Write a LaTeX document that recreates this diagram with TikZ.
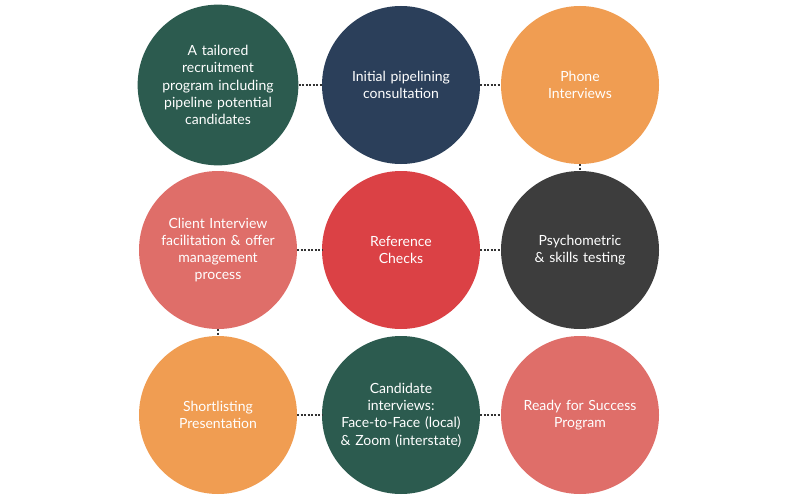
\documentclass[tikz,border=0pt]{standalone}
\usepackage{fontspec}
\setmainfont{Lato}
\definecolor{cgreen}{HTML}{2C5B4F}
\definecolor{cnavy}{HTML}{2B3F5A}
\definecolor{corange}{HTML}{F09D52}
\definecolor{csalmon}{HTML}{DF6E69}
\definecolor{cred}{HTML}{DB4145}
\definecolor{cgray}{HTML}{3D3D3D}
\definecolor{cdot}{HTML}{333333}
\begin{document}
\begin{tikzpicture}[x=1pt,y=-1pt,
  bubble/.style={circle,minimum size=158pt,inner sep=0pt,text=white,align=center,
    font=\fontsize{14}{17.3}\selectfont,text width=140pt},
  link/.style={draw=cdot,line width=2pt,dash pattern=on 2pt off 1.5pt}]
\useasboundingbox (0,0) rectangle (800,500);
\fill[white] (0,0) rectangle (800,500);
\node[bubble,fill=cgreen] (a) at (218,85) {A tailored\\recruitment\\program including\\pipeline potential\\candidates};
\node[bubble,fill=cnavy] (b) at (401,85) {Initial pipelining\\consultation};
\node[bubble,fill=corange] (c) at (580,85) {Phone\\Interviews};
\node[bubble,fill=csalmon] (d) at (218,250) {Client Interview\\facilitation \& offer\\management\\process};
\node[bubble,fill=cred] (e) at (401,250) {Reference\\Checks};
\node[bubble,fill=cgray] (f) at (580,250) {Psychometric\\\& skills testing};
\node[bubble,fill=corange] (g) at (218,415) {Shortlisting\\Presentation};
\node[bubble,fill=cgreen] (h) at (401,415) {Candidate\\interviews:\\Face-to-Face (local)\\\& Zoom (interstate)};
\node[bubble,fill=csalmon] (i) at (580,415) {Ready for Success\\Program};
\path[link] (a) -- (b);
\path[link] (b) -- (c);
\path[link] (c) -- (f);
\path[link] (d) -- (e);
\path[link] (e) -- (f);
\path[link] (d) -- (g);
\path[link] (g) -- (h);
\path[link] (h) -- (i);
\end{tikzpicture}
\end{document}
